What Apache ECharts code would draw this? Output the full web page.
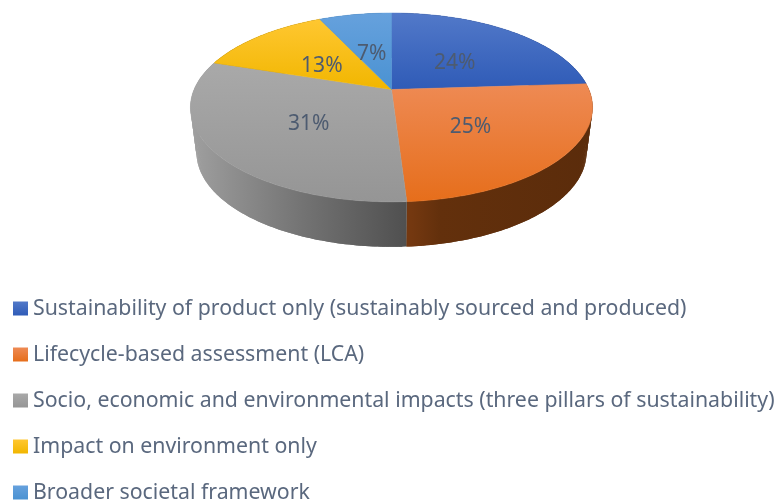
<!DOCTYPE html>
<html>
<head>
<meta charset="utf-8">
<style>html,body{margin:0;padding:0;background:#fff}#chart{width:781px;height:502px}</style>
<script src="https://cdn.jsdelivr.net/npm/echarts@6/dist/echarts.min.js"></script>
</head>
<body>
<div id="chart"></div>
<script>
// Shares of each sustainability definition, in percent, clockwise from twelve o'clock.
const categories = [
  'Sustainability of product only (sustainably sourced and produced)',
  'Lifecycle-based assessment (LCA)',
  'Socio, economic and environmental impacts (three pillars of sustainability)',
  'Impact on environment only',
  'Broader societal framework'
];
const shares = [24, 25, 31, 13, 7];

// Top-face shading per slice: upper colour, lower colour.
const faceTop = ['#5279c9', '#ee8a54', '#a9a9a9', '#ffc731', '#66a1dd'];
const faceBottom = ['#2f5bb7', '#e66e1b', '#959595', '#f1b600', '#4a92d2'];
// Wall shading per slice, as horizontal stops across the pie's width.
const wallStops = [
  [[0, '#243f78'], [1, '#1f3a70']],
  [[0.55, '#743810'], [0.62, '#63300c'], [1, '#5b2c0b']],
  [[0, '#a0a0a0'], [0.1, '#8f8f8f'], [0.28, '#737373'], [0.55, '#4e4e4e']],
  [[0, '#7f6000'], [1, '#7f6000']],
  [[0, '#2e6a9e'], [1, '#2e6a9e']]
];

// Tilted-disc projection: the disc centre sits above the middle of its elliptical outline.
const CX = 391.5, CY = 89.5, RX = 197.4, RY = 91, TILT = 0.19;
const DEPTH = 45, BASE_SCALE = 0.97;
const ARC_STEP = Math.PI / 180;

function project(angle, radius) {
  const x = radius * Math.sin(angle), y = radius * Math.cos(angle);
  const w = 1 + TILT * y;
  return [CX + RX * x / w, CY - RY * y / w];
}
function dropToBase(p) {
  return [CX + BASE_SCALE * (p[0] - CX), p[1] + DEPTH];
}
function arcPoints(a0, a1) {
  const n = Math.max(2, Math.ceil((a1 - a0) / ARC_STEP));
  const pts = [];
  for (let i = 0; i <= n; i++) pts.push(project(a0 + (a1 - a0) * i / n, 1));
  return pts;
}

const total = shares.reduce((s, v) => s + v, 0);

function sliceSeries(name, index) {
  const before = shares.slice(0, index).reduce((s, v) => s + v, 0);
  return {
    type: 'custom',
    name: name,
    coordinateSystem: 'none',
    silent: true,
    data: [[shares[index]]],
    itemStyle: { color: faceBottom[index] },
    renderItem: function (params, api) {
      const value = api.value(0);
      const a0 = before / total * 2 * Math.PI;
      const a1 = (before + value) / total * 2 * Math.PI;
      const rim = arcPoints(a0, a1);
      const last = rim.length - 1;
      const wallFill = new echarts.graphic.LinearGradient(
        CX - 201, 0, CX + 201, 0,
        wallStops[index].map(s => ({ offset: s[0], color: s[1] })), true);
      const faceFill = new echarts.graphic.LinearGradient(0, 0, 0, 1, [
        { offset: 0, color: faceTop[index] },
        { offset: 1, color: faceBottom[index] }
      ]);
      // The wall is swept quad by quad, each overlapping the next, so its outline
      // stays tangent to both rims and no seams show between the pieces.
      const wallQuads = [];
      for (let i = 0; i < last; i++) {
        const j = Math.min(i + 2, last);
        wallQuads.push({
          type: 'polygon', z2: 1,
          shape: { points: [rim[i], rim[i + 1], rim[j], dropToBase(rim[j]), dropToBase(rim[i + 1]), dropToBase(rim[i])] },
          style: { fill: wallFill }
        });
      }
      const mid = project((a0 + a1) / 2, 0.5);
      return {
        type: 'group',
        children: wallQuads.concat([
          {
            type: 'polygon', z2: 10,
            shape: { points: [[CX, CY]].concat(rim) },
            style: { fill: faceFill, stroke: faceFill, lineWidth: 0.5 }
          },
          {
            type: 'text', z2: 20,
            x: mid[0], y: mid[1] + 5,
            style: {
              text: value + '%',
              fill: '#4d5b70',
              font: '21px "Noto Sans"',
              align: 'center',
              verticalAlign: 'middle'
            }
          }
        ])
      };
    }
  };
}

const chart = echarts.init(document.getElementById('chart'), null, { renderer: 'canvas' });
chart.setOption({
  animation: false,
  backgroundColor: '#ffffff',
  legend: {
    orient: 'vertical',
    left: 13,
    top: 298,
    padding: 0,
    icon: 'rect',
    itemWidth: 15,
    itemHeight: 14,
    itemGap: 25,
    height: 240,
    selectedMode: false,
    textStyle: {
      color: '#5a687e',
      fontFamily: 'Noto Sans',
      fontSize: 21.3,
      lineHeight: 20
    },
    data: categories.map((name, i) => ({
      name: name,
      itemStyle: {
        color: new echarts.graphic.LinearGradient(0, 0, 0, 1, [
          { offset: 0, color: faceTop[i] },
          { offset: 1, color: faceBottom[i] }
        ])
      }
    }))
  },
  series: categories.map(sliceSeries)
});
</script>
</body>
</html>
